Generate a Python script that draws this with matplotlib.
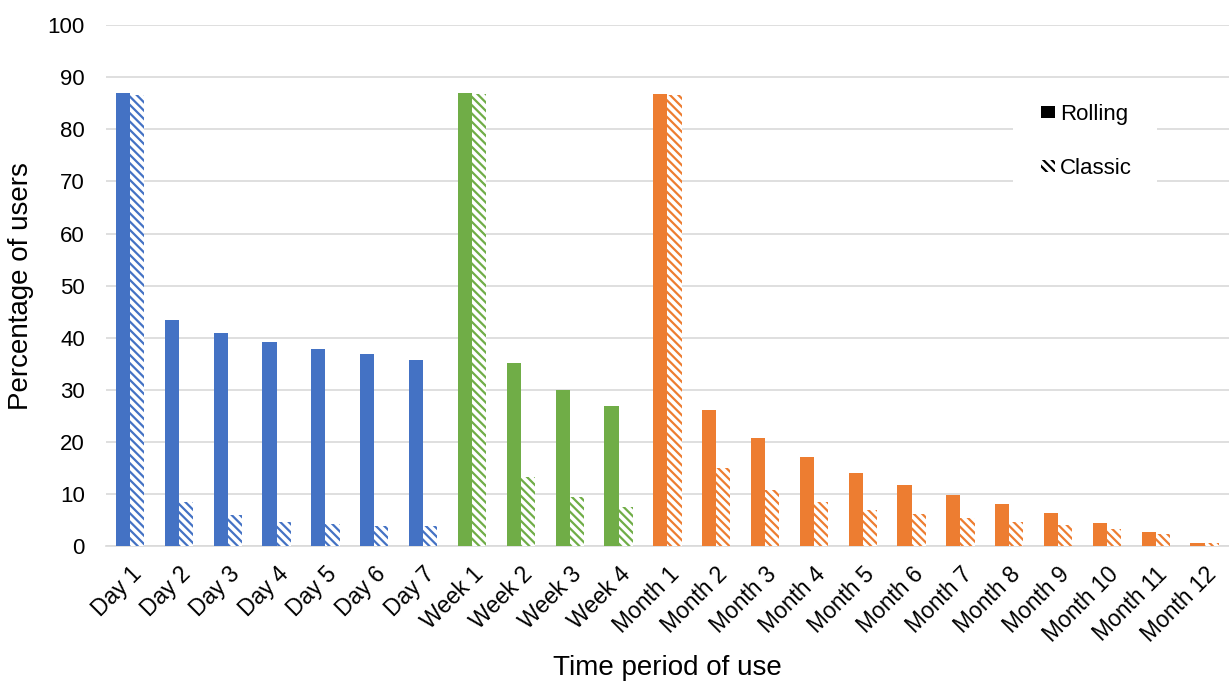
import numpy as np
import matplotlib
matplotlib.use("Agg")
import matplotlib.pyplot as plt
from matplotlib.patches import Patch, Rectangle

# ---------------------------------------------------------------------------
# Data
# ---------------------------------------------------------------------------
periods = ["Day 1", "Day 2", "Day 3", "Day 4", "Day 5", "Day 6", "Day 7",
           "Week 1", "Week 2", "Week 3", "Week 4",
           "Month 1", "Month 2", "Month 3", "Month 4", "Month 5", "Month 6",
           "Month 7", "Month 8", "Month 9", "Month 10", "Month 11", "Month 12"]
rolling = [86.9, 43.4, 40.9, 39.2, 37.9, 36.8, 35.8,
           86.9, 35.1, 29.9, 26.9,
           86.7, 26.1, 20.7, 17.0, 14.1, 11.8, 9.8, 8.1, 6.3, 4.5, 2.6, 0.6]
classic = [86.6, 8.4, 5.9, 4.7, 4.2, 3.9, 3.8,
           86.7, 13.3, 9.5, 7.5,
           86.6, 14.9, 10.7, 8.5, 7.0, 6.1, 5.3, 4.7, 4.0, 3.3, 2.4, 0.5]
groups = ["day"] * 7 + ["week"] * 4 + ["month"] * 12
group_colors = {"day": "#4472C4", "week": "#70AD47", "month": "#ED7D31"}

plt.rcParams["font.family"] = ["Liberation Sans", "DejaVu Sans"]
plt.rcParams["hatch.linewidth"] = 1.6

fig = plt.figure(figsize=(12.29, 6.89), dpi=100)
ax = fig.add_axes([0.086, 0.2075, 0.914, 0.756])

x = np.arange(len(periods))
w = 0.29
colors = [group_colors[g] for g in groups]

ax.bar(x - w / 2, rolling, width=w, color=colors, linewidth=0, zorder=3)
for xi, v, c in zip(x, classic, colors):
    ax.bar(xi + w / 2, v, width=w, facecolor="white", edgecolor=c,
           hatch="\\\\\\\\", linewidth=0, zorder=3)

ax.set_xlim(-0.5, len(periods) - 0.5)
ax.set_ylim(0, 100)
ax.set_yticks(range(0, 101, 10))
ax.set_xticks(x)
ax.set_xticklabels(periods, rotation=45, ha="right", rotation_mode="anchor",
                   fontsize=16.5)
ax.tick_params(axis="y", labelsize=16, length=0, pad=15)
ax.tick_params(axis="x", length=0, pad=12)
ax.grid(axis="y", color="#D9D9D9", linewidth=1.2, zorder=0)
for s in ["top", "right", "left"]:
    ax.spines[s].set_visible(False)
ax.spines["bottom"].set_color("#D9D9D9")
ax.spines["bottom"].set_linewidth(1.2)

ax.set_ylabel("Percentage of users", fontsize=20, labelpad=10)
ax.set_xlabel("Time period of use", fontsize=20, labelpad=6)

# legend: white box hiding the gridlines, legend itself without frame
ax.add_patch(Rectangle((0.808, 0.674), 0.128, 0.197, transform=ax.transAxes,
                       facecolor="white", edgecolor="none", zorder=2))
handles = [Patch(facecolor="black", edgecolor="black", linewidth=0),
           Patch(facecolor="white", edgecolor="black", hatch="\\\\\\\\", linewidth=0)]
leg = ax.legend(handles, ["Rolling", "Classic"], loc="upper left",
                bbox_to_anchor=(0.833, 0.848), fontsize=16, frameon=False,
                handlelength=0.6, handleheight=0.45, handletextpad=0.25,
                labelspacing=1.45, borderpad=0, borderaxespad=0)
leg.set_zorder(5)

fig.savefig("out.png", dpi=100)
